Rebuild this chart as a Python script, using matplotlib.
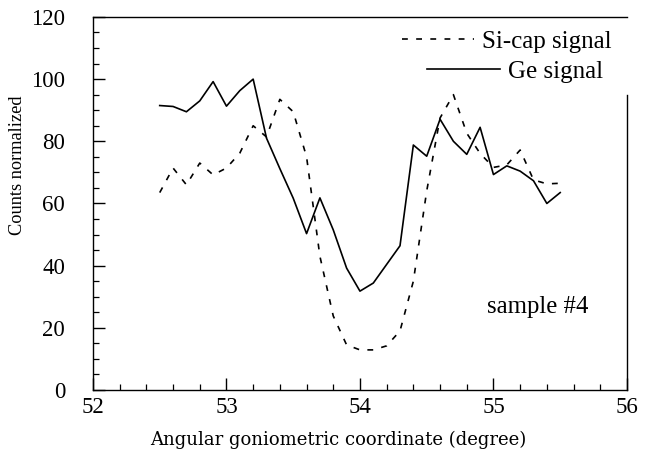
import matplotlib
matplotlib.use("Agg")
import matplotlib.pyplot as plt
from matplotlib.ticker import MultipleLocator

angle = [52.5, 52.6, 52.7, 52.8, 52.9, 53.0, 53.1, 53.2, 53.3, 53.4, 53.5,
         53.6, 53.7, 53.8, 53.9, 54.0, 54.1, 54.2, 54.3, 54.4, 54.5,
         54.6, 54.7, 54.8, 54.9, 55.0, 55.1, 55.2, 55.3, 55.4, 55.5]
ge_signal = [91.5, 91.2, 89.5, 93.0, 99.2, 91.3, 96.3, 100.0, 81.0, 71.2, 61.7,
             50.3, 61.8, 51.5, 39.2, 31.8, 34.4, 40.4, 46.4, 78.8, 75.2,
             87.1, 80.0, 75.8, 84.5, 69.3, 72.1, 70.4, 67.3, 60.0, 63.5]
sicap_signal = [63.5, 71.4, 66.0, 73.0, 69.2, 71.4, 76.2, 85.0, 81.4, 93.5, 89.5,
                75.0, 43.0, 23.8, 14.5, 12.9, 12.9, 14.2, 19.0, 35.0, 64.0,
                87.5, 95.0, 82.6, 76.1, 71.6, 72.4, 77.2, 67.6, 66.3, 66.5]
x_ticks = [52, 53, 54, 55, 56]
y_ticks = [0, 20, 40, 60, 80, 100, 120]

serif = "Liberation Serif"

fig = plt.figure(figsize=(6.47, 4.58), dpi=100)
ax = fig.add_axes([0.1437, 0.1485, 0.969 - 0.1437, 0.963 - 0.1485])

l_si, = ax.plot(angle, sicap_signal, color="black", lw=1.2,
                linestyle=(0, (3.5, 5)), label="Si-cap signal")
l_ge, = ax.plot(angle, ge_signal, color="black", lw=1.2, label="Ge signal")

ax.set_xlim(52, 56)
ax.set_ylim(0, 120)
ax.set_xticks(x_ticks)
ax.set_yticks(y_ticks)
ax.xaxis.set_minor_locator(MultipleLocator(0.2))
ax.yaxis.set_minor_locator(MultipleLocator(5))
ax.tick_params(which="major", direction="in", length=8.5, width=1.0,
               labelsize=16.5, top=False, right=False)
ax.tick_params(axis="y", which="major", pad=20)
ax.tick_params(axis="x", which="major", pad=5)
ax.tick_params(which="minor", direction="in", length=4.5, width=0.9,
               top=False, right=False)
for lab in ax.get_xticklabels() + ax.get_yticklabels():
    lab.set_fontfamily(serif)

ax.spines["right"].set_bounds(0, 95)
for s in ax.spines.values():
    s.set_linewidth(1.0)

ax.set_ylabel("Counts normalized", fontfamily=serif, fontsize=13.2)
ax.yaxis.set_label_coords(-0.125, 0.603)
ax.set_xlabel("Angular goniometric coordinate (degree)", fontfamily="DejaVu Serif",
              fontsize=13)
ax.xaxis.set_label_coords(0.459, -0.134)
ax.xaxis.label.set_va("center")

ax.text(55.33, 26.7, "sample #4", fontfamily=serif, fontsize=17.8,
        ha="center", va="center")

leg1 = ax.legend(handles=[l_si], loc="center right", bbox_to_anchor=(0.972, 0.933),
                 frameon=False, prop={"family": serif, "size": 18},
                 handlelength=2.9, handletextpad=0.32, borderaxespad=0.0,
                 borderpad=0.0)
ax.add_artist(leg1)
ax.legend(handles=[l_ge], loc="center right", bbox_to_anchor=(0.955, 0.8525),
          frameon=False, prop={"family": serif, "size": 18},
          handlelength=2.9, handletextpad=0.32, borderaxespad=0.0,
          borderpad=0.0)

fig.savefig("out.png", dpi=100)
